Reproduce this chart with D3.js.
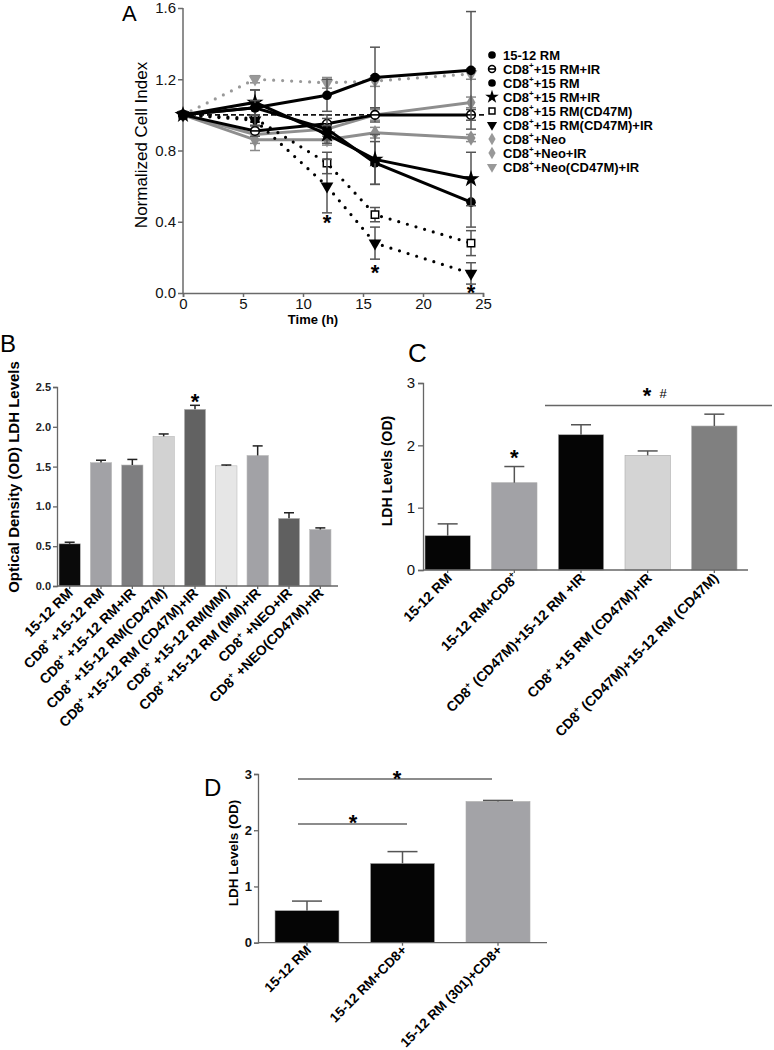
<!DOCTYPE html>
<html><head><meta charset="utf-8">
<script src="https://cdn.jsdelivr.net/npm/d3@7"></script>
<style>
body{margin:0;background:#fff;}
svg{display:block;font-family:"Liberation Sans",Arial,sans-serif;}
</style></head>
<body>
<script>
// ---------- Panel A data ----------
const timesA = [0, 6, 12, 16, 24];
const seriesNamesA = ["15-12 RM","CD8^++15 RM+IR","CD8^++15 RM","CD8^++15 RM+IR","CD8^++15 RM(CD47M)","CD8^++15 RM(CD47M)+IR","CD8^++Neo","CD8^++Neo+IR","CD8^++Neo(CD47M)+IR"];
const s1 = [1.00, 1.04, 1.11, 1.21, 1.25];
const s2 = [1.00, 0.91, 0.95, 1.00, 1.00];
const s3 = [1.00, 1.04, 0.92, 0.73, 0.51];
const s4 = [1.00, 1.07, 0.89, 0.75, 0.64];
const s5 = [1.00, 0.98, 0.73, 0.44, 0.28];
const s6 = [1.00, 0.97, 0.60, 0.28, 0.11];
const s7 = [1.00, 0.86, 0.86, 0.90, 0.87];
const s8 = [1.00, 0.89, 0.92, 1.00, 1.07];
const s9 = [1.00, 1.20, 1.18, 1.19, 1.23];
const e1 = [0, 0.04, 0.09, 0.17, 0.33];
const e2 = [0, 0.03, 0.05, 0.04, 0.03];
const e3 = [0, 0.10, 0.06, 0.12, 0.14];
const e4 = [0, 0.07, 0.05, 0.14, 0.15];
const e5 = [0, 0.02, 0.06, 0.04, 0.07];
const e6 = [0, 0.03, 0.15, 0.09, 0.06];
const e7 = [0, 0.06, 0.03, 0.03, 0.02];
const e8 = [0, 0.05, 0.04, 0.03, 0.03];
const e9 = [0, 0.02, 0.03, 0.03, 0.03];
const refLevelA = 1.0;
const starTimesA = [12, 16, 24];
const starValsA = [0.42, 0.14, 0.03];
const yTicksA = [0, 0.4, 0.8, 1.2, 1.6];
const xTicksA = [0, 5, 10, 15, 20, 25];

// ---------- Panel B data ----------
const catsB = ["15-12 RM","CD8^+ +15-12 RM","CD8^+ +15-12 RM+IR","CD8^+ +15-12 RM(CD47M)","CD8^+ +15-12 RM (CD47M)+IR","CD8^+ +15-12 RM(MM)","CD8^+ +15-12 RM (MM)+IR","CD8^+ +NEO+IR","CD8^+ +NEO(CD47M)+IR"];
const valsB = [0.53, 1.55, 1.52, 1.88, 2.22, 1.51, 1.64, 0.85, 0.71];
const errsB = [0.02, 0.03, 0.07, 0.03, 0.05, 0.01, 0.12, 0.07, 0.02];
const colorsB = ["#0a0a0a","#a2a2a6","#7e7e80","#d2d2d2","#626262","#e6e6e6","#a2a2a6","#606060","#a0a0a4"];
const yTicksB = [0, 0.5, 1.0, 1.5, 2.0, 2.5];

// ---------- Panel C data ----------
const catsC = ["15-12 RM","15-12 RM+CD8^+","CD8^+ (CD47M)+15-12 RM +IR","CD8^+ +15 RM (CD47M)+IR","CD8^+ (CD47M)+15-12 RM (CD47M)"];
const valsC = [0.55, 1.40, 2.17, 1.84, 2.31];
const errsC = [0.19, 0.26, 0.16, 0.07, 0.19];
const colorsC = ["#050505","#a2a2a6","#050505","#d4d4d4","#808080"];
const yTicksC = [0, 1, 2, 3];

// ---------- Panel D data ----------
const catsD = ["15-12 RM","15-12 RM+CD8+","15-12 RM (301)+CD8+"];
const valsD = [0.57, 1.41, 2.51];
const errsD = [0.17, 0.21, 0.02];
const colorsD = ["#050505","#050505","#a3a3a7"];
const yTicksD = [0, 1, 2, 3];

const W = 774, H = 1050;
const svg = d3.select("body").append("svg").attr("width", W).attr("height", H);

function rich(sel, str, fs) {
  const parts = str.split("^+");
  parts.forEach((p, i) => {
    if (i > 0) {
      sel.append("tspan").attr("dy", -fs * 0.42).attr("font-size", fs * 0.62).text("+");
      sel.append("tspan").attr("dy", fs * 0.42).text(p);
    } else {
      sel.append("tspan").text(p);
    }
  });
}

// =================== Panel A ===================
const xA = d3.scaleLinear().domain([0, 25]).range([183, 483]);
const yA = d3.scaleLinear().domain([0, 1.6]).range([293, 8]);
const gA = svg.append("g");

const axYA = gA.append("g").attr("transform", "translate(183,0)")
  .call(d3.axisLeft(yA).tickValues(yTicksA).tickFormat(d3.format(".1f")).tickSize(5).tickPadding(2));
const axXA = gA.append("g").attr("transform", "translate(0,293)")
  .call(d3.axisBottom(xA).tickValues(xTicksA).tickFormat(d3.format("d")).tickSize(4).tickPadding(1));
[axYA, axXA].forEach(a => {
  a.selectAll("path,line").attr("stroke", "#6a6a6a").attr("stroke-width", 1.5);
  a.selectAll("text").attr("font-size", 15).attr("fill", "#111").attr("font-weight", "normal");
});
axYA.select(".domain").attr("d", "M0,8V293");

gA.append("text").attr("x", 313).attr("y", 324).attr("text-anchor", "middle")
  .attr("font-size", 13).attr("font-weight", "bold").text("Time (h)");
gA.append("text").attr("transform", "translate(147,145) rotate(-90)").attr("text-anchor", "middle")
  .attr("font-size", 17).text("Normalized Cell  Index");
gA.append("text").attr("x", 122).attr("y", 21).attr("font-size", 22).text("A");

// reference dashed line
gA.append("line").attr("x1", xA(0)).attr("x2", xA(25.3)).attr("y1", yA(refLevelA)).attr("y2", yA(refLevelA))
  .attr("stroke", "#111").attr("stroke-width", 1.8).attr("stroke-dasharray", "5,3");

const seriesA = [
  {v: s7, e: e7, c: "#8e8e8e", dash: null, sym: "diamond"},
  {v: s8, e: e8, c: "#8e8e8e", dash: null, sym: "diamond"},
  {v: s9, e: e9, c: "#999999", dash: "dot", sym: "tri"},
  {v: s5, e: e5, c: "#000", dash: "dot", sym: "square"},
  {v: s6, e: e6, c: "#000", dash: "dot", sym: "tri"},
  {v: s2, e: e2, c: "#000", dash: null, sym: "circleLine"},
  {v: s3, e: e3, c: "#000", dash: null, sym: "circle"},
  {v: s4, e: e4, c: "#000", dash: null, sym: "star"},
  {v: s1, e: e1, c: "#000", dash: null, sym: "circle"}
];
const lineA = d3.line().x((d, i) => xA(timesA[i])).y(d => yA(d));

function drawSym(g, sym, x, y, c, scale) {
  scale = scale || 1;
  if (sym === "circle") {
    g.append("circle").attr("cx", x).attr("cy", y).attr("r", 4.8 * scale).attr("fill", c);
  } else if (sym === "circleLine") {
    g.append("circle").attr("cx", x).attr("cy", y).attr("r", 4.3 * scale).attr("fill", "#fff").attr("stroke", c).attr("stroke-width", 1.6);
    g.append("line").attr("x1", x - 4 * scale).attr("x2", x + 4 * scale).attr("y1", y).attr("y2", y).attr("stroke", c).attr("stroke-width", 1.6);
  } else if (sym === "square") {
    g.append("path").attr("d", d3.symbol(d3.symbolSquare, 55 * scale * scale)()).attr("transform", `translate(${x},${y})`)
      .attr("fill", "#fff").attr("stroke", c).attr("stroke-width", 1.5);
  } else if (sym === "tri") {
    g.append("path").attr("d", d3.symbol(d3.symbolTriangle, 70 * scale * scale)()).attr("transform", `translate(${x},${y}) rotate(180)`)
      .attr("fill", c);
  } else if (sym === "star") {
    g.append("path").attr("d", d3.symbol(d3.symbolStar, 90 * scale * scale)()).attr("transform", `translate(${x},${y})`).attr("fill", c);
  } else if (sym === "diamond") {
    g.append("path").attr("d", d3.symbol(d3.symbolDiamond, 70 * scale * scale)()).attr("transform", `translate(${x},${y})`).attr("fill", c);
  }
}

seriesA.forEach(s => {
  s.v.forEach((v, i) => {
    if (!s.e[i]) return;
    const x = xA(timesA[i]);
    const ec = s.c === "#000" ? "#555" : "#8a8a8a";
    gA.append("line").attr("x1", x).attr("x2", x).attr("y1", yA(v - s.e[i])).attr("y2", yA(v + s.e[i])).attr("stroke", ec).attr("stroke-width", 1.5);
    [v - s.e[i], v + s.e[i]].forEach(ev => gA.append("line").attr("x1", x - 5).attr("x2", x + 5).attr("y1", yA(ev)).attr("y2", yA(ev)).attr("stroke", ec).attr("stroke-width", 1.5));
  });
  const p = gA.append("path").attr("d", lineA(s.v)).attr("fill", "none").attr("stroke", s.c);
  if (s.dash === "dot") p.attr("stroke-width", 3.2).attr("stroke-linecap", "round").attr("stroke-dasharray", "0,9");
  else p.attr("stroke-width", 3);
  s.v.forEach((v, i) => drawSym(gA, s.sym, xA(timesA[i]), yA(v), s.c));
});

starTimesA.forEach((t, i) => {
  gA.append("text").attr("x", xA(t)).attr("y", yA(starValsA[i]) + 12).attr("text-anchor", "middle")
    .attr("font-size", 22).attr("font-weight", "bold").text("*");
});

// legend
const legSyms = ["circle","circleLine","circle","star","square","tri","diamond","diamond","tri"];
const legCols = ["#000","#000","#000","#000","#000","#000","#999","#999","#999"];
seriesNamesA.forEach((n, i) => {
  const y = 55 + i * 14;
  drawSym(gA, legSyms[i], 492, y, legCols[i], 0.8);
  const t = gA.append("text").attr("x", 503).attr("y", y + 4.5).attr("font-size", 13).attr("font-weight", "bold");
  rich(t, n, 13);
});

// =================== Panel B ===================
const gB = svg.append("g");
const xB = d3.scaleBand().domain(catsB).range([54, 336]).paddingInner(0.32).paddingOuter(0.16);
const yB = d3.scaleLinear().domain([0, 2.5]).range([586, 387]);
gB.selectAll("rect").data(catsB).join("rect")
  .attr("x", d => xB(d)).attr("width", xB.bandwidth())
  .attr("y", (d, i) => yB(valsB[i])).attr("height", (d, i) => 586 - yB(valsB[i]))
  .attr("fill", (d, i) => colorsB[i]).attr("stroke", "#bbb").attr("stroke-width", 0.6);
catsB.forEach((c, i) => {
  const cx = xB(c) + xB.bandwidth() / 2, top = yB(valsB[i] + errsB[i]);
  gB.append("line").attr("x1", cx).attr("x2", cx).attr("y1", yB(valsB[i])).attr("y2", top).attr("stroke", "#222").attr("stroke-width", 1.5);
  gB.append("line").attr("x1", cx - 5).attr("x2", cx + 5).attr("y1", top).attr("y2", top).attr("stroke", "#222").attr("stroke-width", 1.5);
});
const axYB = gB.append("g").attr("transform", "translate(57,0)")
  .call(d3.axisLeft(yB).tickValues(yTicksB).tickFormat(d3.format(".1f")).tickSize(4).tickPadding(2));
axYB.selectAll("path,line").attr("stroke", "#666").attr("stroke-width", 1.3);
axYB.selectAll("text").attr("font-size", 11).attr("font-weight", "bold").attr("fill", "#222");
const axXB = gB.append("g").attr("transform", "translate(0,586)")
  .call(d3.axisBottom(xB).tickSize(3).tickFormat(""));
axXB.selectAll("path,line").attr("stroke", "#666").attr("stroke-width", 1.3);
axXB.select(".domain").attr("d", "M57,0H338");
catsB.forEach(c => {
  const cx = xB(c) + xB.bandwidth() / 2;
  const t = gB.append("text").attr("transform", `translate(${cx + 4},${594}) rotate(-45)`).attr("text-anchor", "end")
    .attr("font-size", 14).attr("font-weight", "bold");
  rich(t, c, 14);
});
gB.append("text").attr("transform", "translate(19,477) rotate(-90)").attr("text-anchor", "middle")
  .attr("font-size", 15).attr("font-weight", "bold").text("Optical Density (OD)  LDH Levels");
gB.append("text").attr("x", 0).attr("y", 352).attr("font-size", 24).text("B");
gB.append("text").attr("x", xB(catsB[4]) + xB.bandwidth() / 2).attr("y", yB(valsB[4] + errsB[4]) + 4).attr("text-anchor", "middle")
  .attr("font-size", 22).attr("font-weight", "bold").text("*");

// =================== Panel C ===================
const gC = svg.append("g");
const xC = d3.scaleBand().domain(catsC).range([425, 737]).paddingInner(0.32).paddingOuter(0);
const yC = d3.scaleLinear().domain([0, 3]).range([570, 383]);
gC.selectAll("rect").data(catsC).join("rect")
  .attr("x", d => xC(d)).attr("width", xC.bandwidth())
  .attr("y", (d, i) => yC(valsC[i])).attr("height", (d, i) => 570 - yC(valsC[i]))
  .attr("fill", (d, i) => colorsC[i]).attr("stroke", "#aaa").attr("stroke-width", 0.6);
catsC.forEach((c, i) => {
  const cx = xC(c) + xC.bandwidth() / 2, top = yC(valsC[i] + errsC[i]);
  gC.append("line").attr("x1", cx).attr("x2", cx).attr("y1", yC(valsC[i])).attr("y2", top).attr("stroke", "#555").attr("stroke-width", 1.5);
  gC.append("line").attr("x1", cx - 10).attr("x2", cx + 10).attr("y1", top).attr("y2", top).attr("stroke", "#555").attr("stroke-width", 1.5);
});
const axYC = gC.append("g").attr("transform", "translate(423,0)")
  .call(d3.axisLeft(yC).tickValues(yTicksC).tickFormat(d3.format("d")).tickSize(5).tickPadding(3));
axYC.selectAll("path,line").attr("stroke", "#666").attr("stroke-width", 1.3);
axYC.selectAll("text").attr("font-size", 15).attr("fill", "#111");
const axXC = gC.append("g").attr("transform", "translate(0,570)")
  .call(d3.axisBottom(xC).tickSize(3).tickFormat(""));
axXC.selectAll("path,line").attr("stroke", "#666").attr("stroke-width", 1.3);
axXC.select(".domain").attr("d", "M423,0H748");
catsC.forEach(c => {
  const cx = xC(c) + xC.bandwidth() / 2;
  const t = gC.append("text").attr("transform", `translate(${cx + 5},${579}) rotate(-45)`).attr("text-anchor", "end")
    .attr("font-size", 14).attr("font-weight", "bold");
  rich(t, c, 14);
});
gC.append("text").attr("transform", "translate(392,471) rotate(-90)").attr("text-anchor", "middle")
  .attr("font-size", 14).attr("font-weight", "bold").text("LDH  Levels (OD)");
gC.append("text").attr("x", 408).attr("y", 362).attr("font-size", 26).text("C");
gC.append("text").attr("x", xC(catsC[1]) + xC.bandwidth() / 2).attr("y", yC(valsC[1] + errsC[1]) - 2).attr("text-anchor", "middle")
  .attr("font-size", 22).attr("font-weight", "bold").text("*");
gC.append("line").attr("x1", 545).attr("x2", 772).attr("y1", 405.5).attr("y2", 405.5).attr("stroke", "#666").attr("stroke-width", 1.3);
gC.append("text").attr("x", 647).attr("y", 403).attr("text-anchor", "middle").attr("font-size", 22).attr("font-weight", "bold").text("*");
gC.append("text").attr("x", 663).attr("y", 398).attr("text-anchor", "middle").attr("font-size", 13).text("#");

// =================== Panel D ===================
const gD = svg.append("g");
const xD = d3.scaleBand().domain(catsD).range([275, 530]).paddingInner(0.33).paddingOuter(0);
const yD = d3.scaleLinear().domain([0, 3]).range([942.7, 774]);
gD.selectAll("rect").data(catsD).join("rect")
  .attr("x", d => xD(d)).attr("width", xD.bandwidth())
  .attr("y", (d, i) => yD(valsD[i])).attr("height", (d, i) => 942.7 - yD(valsD[i]))
  .attr("fill", (d, i) => colorsD[i]).attr("stroke", "#aaa").attr("stroke-width", 0.6);
catsD.forEach((c, i) => {
  const cx = xD(c) + xD.bandwidth() / 2, top = yD(valsD[i] + errsD[i]);
  gD.append("line").attr("x1", cx).attr("x2", cx).attr("y1", yD(valsD[i])).attr("y2", top).attr("stroke", "#555").attr("stroke-width", 1.5);
  gD.append("line").attr("x1", cx - 15).attr("x2", cx + 15).attr("y1", top).attr("y2", top).attr("stroke", "#555").attr("stroke-width", 1.5);
});
const axYD = gD.append("g").attr("transform", "translate(258,0)")
  .call(d3.axisLeft(yD).tickValues(yTicksD).tickFormat(d3.format("d")).tickSize(4).tickPadding(2));
axYD.selectAll("path,line").attr("stroke", "#666").attr("stroke-width", 1.3);
axYD.selectAll("text").attr("font-size", 13).attr("font-weight", "bold").attr("fill", "#111");
const axXD = gD.append("g").attr("transform", "translate(0,942.7)")
  .call(d3.axisBottom(xD).tickSize(3).tickFormat(""));
axXD.selectAll("path,line").attr("stroke", "#666").attr("stroke-width", 1.3);
axXD.select(".domain").attr("d", "M258,0H547");
catsD.forEach(c => {
  const cx = xD(c) + xD.bandwidth() / 2;
  gD.append("text").attr("transform", `translate(${cx + 5},${951}) rotate(-45)`).attr("text-anchor", "end")
    .attr("font-size", 13.5).attr("font-weight", "bold").text(c);
});
gD.append("text").attr("transform", "translate(238,853) rotate(-90)").attr("text-anchor", "middle")
  .attr("font-size", 13.5).attr("font-weight", "bold").text("LDH  Levels (OD)");
gD.append("text").attr("x", 204).attr("y", 796).attr("font-size", 24).text("D");
gD.append("line").attr("x1", 298).attr("x2", 492).attr("y1", 779).attr("y2", 779).attr("stroke", "#666").attr("stroke-width", 1.3);
gD.append("line").attr("x1", 298).attr("x2", 407).attr("y1", 824).attr("y2", 824).attr("stroke", "#666").attr("stroke-width", 1.3);
gD.append("text").attr("x", 397).attr("y", 786).attr("text-anchor", "middle").attr("font-size", 22).attr("font-weight", "bold").text("*");
gD.append("text").attr("x", 353).attr("y", 830).attr("text-anchor", "middle").attr("font-size", 22).attr("font-weight", "bold").text("*");
</script>
</body></html>
